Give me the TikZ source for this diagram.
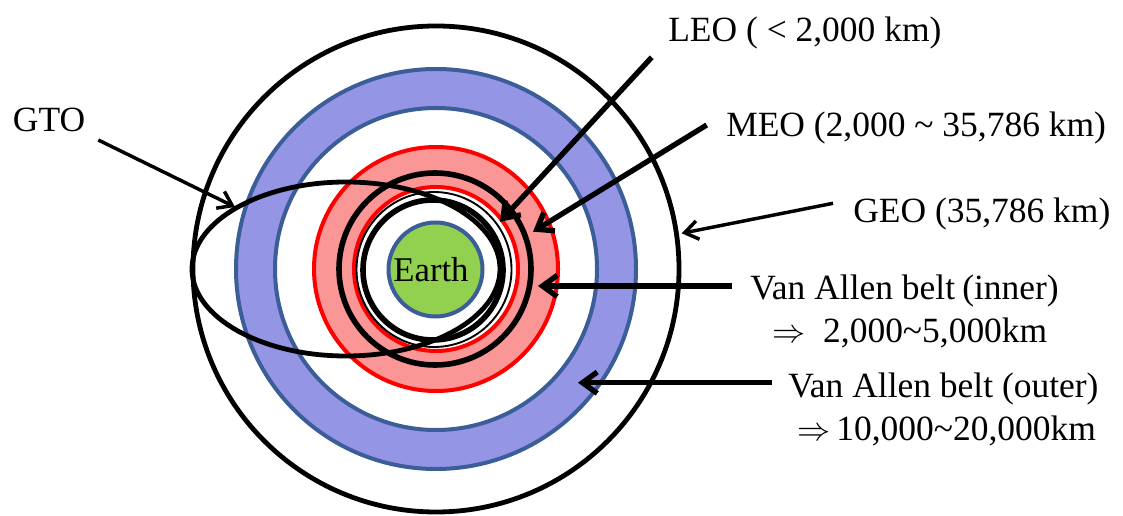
\documentclass[tikz,border=0pt]{standalone}
\usepackage{fontspec}
\setmainfont{Liberation Serif}
\usetikzlibrary{arrows.meta}
\definecolor{beltblue}{RGB}{148,149,228}
\definecolor{edgeblue}{RGB}{59,94,152}
\definecolor{beltred}{RGB}{250,150,150}
\definecolor{edgered}{RGB}{255,0,0}
\definecolor{earthgreen}{RGB}{146,208,80}
\begin{document}
\begin{tikzpicture}[x=0.75pt,y=-0.75pt,
  lbl/.style={anchor=base west,inner sep=0pt,font=\fontsize{26.6}{30}\selectfont},
  orbit/.style={draw=black,line width=4.2pt},
  thickarrow/.style={line width=4pt,-{Straight Barb[length=11pt,width=16pt,line width=4pt]}},
  thinarrow/.style={line width=2.6pt,-{Straight Barb[length=10pt,width=14pt,line width=2.6pt]}}]
\fill[white] (0,0) rectangle (1123,516);
\useasboundingbox (0,0) rectangle (1123,516);
\coordinate (c) at (436,269);
% GEO circle
\draw[line width=3.6pt] (c) circle (243);
% outer Van Allen belt
\fill[beltblue,even odd rule] (c) circle (200) (c) circle (161);
\draw[edgeblue,line width=3pt] (c) circle (200) (c) circle (161);
% inner Van Allen belt
\fill[beltred,even odd rule] (c) circle (122) (c) circle (82);
\draw[edgered,line width=3pt] (c) circle (122) (c) circle (82);
% MEO / LEO
\draw[orbit] (435,269) circle (96);
\draw[black,line width=1.4pt] (434,269.5) circle (77.5);
\draw[orbit] (433,270) circle (70);
% Earth
\node[circle,fill=earthgreen,draw=edgeblue,line width=3pt,minimum size=94*0.75pt,inner sep=0pt] (earth) at (435.5,269.5) {};
\node[anchor=base,inner sep=0pt,font=\fontsize{26}{30}\selectfont] (earthtext) at (431,281.7) {Earth};
% GTO ellipse
\draw[line width=3.6pt] (346,269) ellipse [x radius=154,y radius=87];
% labels
\node[lbl] (leo) at (668,41.7) {LEO ( < 2,000 km)};
\node[lbl] (meo) at (726,137) {MEO (2,000 \textasciitilde{} 35,786 km)};
\node[lbl] (geo) at (853,223) {GEO (35,786 km)};
\node[lbl] (vai) at (750,300) {Van Allen belt\hspace{0.2em}(inner)};
\node[lbl] (vairange) at (772,342) {{\fontsize{25}{25}\selectfont$\Rightarrow$}\ \ 2,000\textasciitilde5,000km};
\node[lbl] (vao) at (788,397) {Van Allen belt (outer)};
\node[lbl] (vaorange) at (797,440) {{\fontsize{25}{25}\selectfont$\Rightarrow$}\,10,000\textasciitilde20,000km};
\node[lbl] (gto) at (12.7,131.7) {GTO};
% arrows
\coordinate (leoS) at (651.7,57.3);  \coordinate (leoE) at (500,221.7);
\coordinate (meoS) at (706.7,125);   \coordinate (meoE) at (533,231.7);
\coordinate (geoS) at (833,203.3);   \coordinate (geoE) at (681.7,233.3);
\coordinate (vaiS) at (731.7,286);   \coordinate (vaiE) at (538,286);
\coordinate (vaoS) at (771.7,382.7); \coordinate (vaoE) at (578,382.7);
\coordinate (gtoS) at (98.3,140);    \coordinate (gtoE) at (235,207);
\draw[thickarrow] (leoS) -- (leoE);
\draw[thickarrow] (meoS) -- (meoE);
\draw[thinarrow] (geoS) -- (geoE);
\draw[thickarrow] (vaiS) -- (vaiE);
\draw[thickarrow] (vaoS) -- (vaoE);
\draw[thinarrow] (gtoS) -- (gtoE);
\end{tikzpicture}
\end{document}
